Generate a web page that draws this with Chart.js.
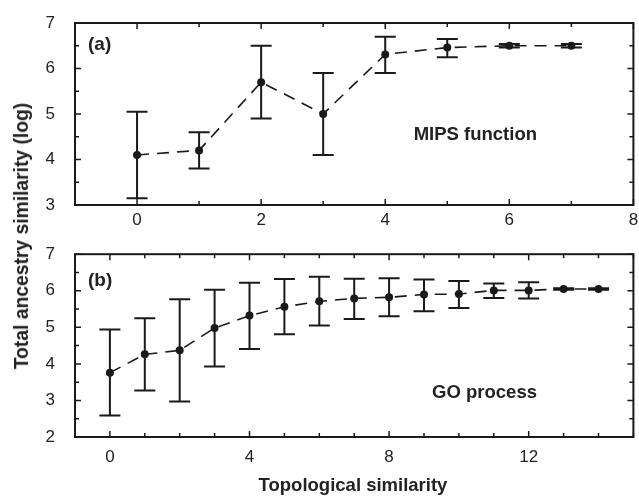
<!DOCTYPE html>
<html>
<head>
<meta charset="utf-8">
<script src="https://cdn.jsdelivr.net/npm/chart.js@4.4.0/dist/chart.umd.min.js"></script>
<style>
  body { margin: 0; background: #fff; font-family: "Liberation Sans", Arial, sans-serif; }
  #wrap { position: relative; width: 639px; height: 498px; }
  canvas { position: absolute; left: 0; }
  .lbl { position: absolute; font-weight: bold; color: #222; white-space: nowrap; }
</style>
</head>
<body>
<div id="wrap">
  <canvas id="chartA" width="639" height="232" style="top:0"></canvas>
  <canvas id="chartB" width="639" height="266" style="top:232px"></canvas>
  <div class="lbl" style="left:88px;top:33px;font-size:19px">(a)</div>
  <div class="lbl" style="right:102px;top:123px;font-size:18.5px">MIPS function</div>
  <div class="lbl" style="left:88px;top:269px;font-size:19px">(b)</div>
  <div class="lbl" style="right:102px;top:381px;font-size:18.5px">GO process</div>
  <div class="lbl" style="left:22px;top:236px;font-size:19.3px;transform:translate(-50%,-50%) rotate(-90deg)">Total ancestry similarity (log)</div>
  <div class="lbl" style="left:353px;top:485px;font-size:18.5px;transform:translate(-50%,-50%)">Topological similarity</div>
</div>
<script>
// panel (a) MIPS function
const mipsX = [0, 1, 2, 3, 4, 5, 6, 7]
const mipsY = [4.1, 4.2, 5.7, 5.0, 6.31, 6.46, 6.5, 6.5]
const mipsLow = [3.15, 3.8, 4.9, 4.1, 5.9, 6.25, 6.46, 6.46]
const mipsHigh = [5.05, 4.6, 6.5, 5.9, 6.7, 6.65, 6.54, 6.54]

// panel (b) GO process
const goX = [0, 1, 2, 3, 4, 5, 6, 7, 8, 9, 10, 11, 12, 13, 14]
const goY = [3.76, 4.26, 4.37, 4.98, 5.32, 5.56, 5.71, 5.79, 5.82, 5.9, 5.91, 6.01, 6.01, 6.05, 6.05]
const goLow = [2.59, 3.27, 2.97, 3.93, 4.41, 4.81, 5.05, 5.23, 5.3, 5.44, 5.53, 5.8, 5.79, 6.03, 6.03]
const goHigh = [4.94, 5.25, 5.77, 6.03, 6.22, 6.32, 6.38, 6.33, 6.34, 6.31, 6.27, 6.2, 6.23, 6.07, 6.07]

const ink = '#1a1a1a'
const tickFont = { family: '"Liberation Sans", Arial, sans-serif', size: 17 }

// error bars, drawn from the y scale
const errorBars = {
  id: 'errorBars',
  afterDatasetsDraw(chart) {
    const ctx = chart.ctx
    const xs = chart.scales.x, ys = chart.scales.y
    chart.data.datasets.forEach(ds => {
      ctx.save()
      ctx.strokeStyle = ink
      ctx.lineWidth = 2
      ds.data.forEach((p, i) => {
        const px = xs.getPixelForValue(p.x)
        const lo = ys.getPixelForValue(ds.errLow[i])
        const hi = ys.getPixelForValue(ds.errHigh[i])
        ctx.beginPath()
        ctx.moveTo(px, lo); ctx.lineTo(px, hi)
        ctx.moveTo(px - 10.5, lo); ctx.lineTo(px + 10.5, lo)
        ctx.moveTo(px - 10.5, hi); ctx.lineTo(px + 10.5, hi)
        ctx.stroke()
      })
      ctx.restore()
    })
  }
}

// frame with inward ticks on all four sides
const frame = {
  id: 'frame',
  afterDraw(chart, args, opts) {
    const ctx = chart.ctx
    const a = chart.chartArea
    const xs = chart.scales.x, ys = chart.scales.y
    ctx.save()
    ctx.strokeStyle = ink
    ctx.lineWidth = 1.5
    ctx.beginPath()
    xs.ticks.forEach(t => {
      const px = xs.getPixelForValue(t.value)
      const len = t.value % opts.xMajor === 0 ? 6 : 4
      ctx.moveTo(px, a.bottom); ctx.lineTo(px, a.bottom - len)
      ctx.moveTo(px, a.top); ctx.lineTo(px, a.top + len)
    })
    ys.ticks.forEach(t => {
      const py = ys.getPixelForValue(t.value)
      const len = t.value % 1 === 0 ? 6 : 4
      ctx.moveTo(a.left, py); ctx.lineTo(a.left + len, py)
      ctx.moveTo(a.right, py); ctx.lineTo(a.right - len, py)
    })
    ctx.stroke()
    ctx.lineWidth = 2
    ctx.strokeRect(a.left, a.top, a.right - a.left, a.bottom - a.top)
    ctx.restore()
  }
}

function makePanel(id, xs, ys, lo, hi, xMin, xMax, yMin, yMax, xMajor, topPad, xHeight, xPad) {
  return new Chart(document.getElementById(id), {
    type: 'line',
    data: {
      datasets: [{
        data: xs.map((x, i) => ({ x: x, y: ys[i] })),
        errLow: lo,
        errHigh: hi,
        borderColor: ink,
        borderWidth: 1.6,
        borderDash: [12, 8],
        pointRadius: 3.2,
        pointBackgroundColor: ink,
        pointBorderColor: ink,
        tension: 0
      }]
    },
    options: {
      responsive: false,
      animation: false,
      layout: { padding: { top: topPad, right: 5, left: 0, bottom: 0 } },
      plugins: { legend: { display: false }, tooltip: { enabled: false }, frame: { xMajor: xMajor } },
      scales: {
        x: {
          type: 'linear', min: xMin, max: xMax,
          grid: { display: false }, border: { display: false },
          afterFit: s => { s.height = xHeight },
          ticks: {
            stepSize: 1, autoSkip: false, maxRotation: 0, padding: xPad,
            color: '#222', font: tickFont,
            callback: v => (v % xMajor === 0 && v >= 0) ? v : ''
          }
        },
        y: {
          min: yMin, max: yMax,
          grid: { display: false }, border: { display: false },
          afterFit: s => { s.width = 75 },
          ticks: {
            stepSize: 0.5, autoSkip: false, padding: 12,
            color: '#222', font: tickFont,
            callback: v => v % 1 === 0 ? v : ''
          }
        }
      }
    },
    plugins: [errorBars, frame]
  })
}

makePanel('chartA', mipsX, mipsY, mipsLow, mipsHigh, -1, 8, 3, 7, 2, 23, 27, -3)
makePanel('chartB', goX, goY, goLow, goHigh, -1, 15, 2, 7, 4, 22, 61, 2)
</script>
</body>
</html>
